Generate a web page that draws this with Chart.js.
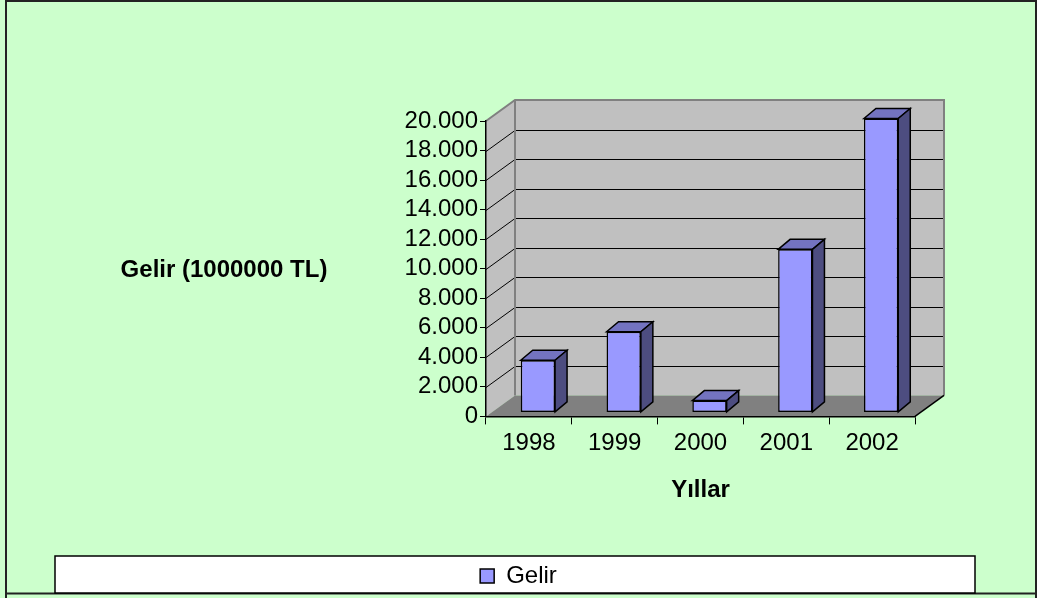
<!DOCTYPE html>
<html>
<head>
<meta charset="utf-8">
<script src="https://cdn.jsdelivr.net/npm/chart.js@4/dist/chart.umd.min.js"></script>
<style>
  html, body { margin: 0; padding: 0; background: #CCFFCC; }
  #wrap { width: 1037px; height: 598px; position: relative; }
</style>
</head>
<body>
<div id="wrap"><canvas id="chart"></canvas></div>
<script>
// ----- Data -----
const years = ["1998", "1999", "2000", "2001", "2002"];
const gelir = [3530, 5460, 800, 11040, 19900];
const yMin = 0;
const yMax = 20000;
const yStep = 2000;

// ----- 3D look -----
const WALL = { dx: 29, dy: -21 };      // depth of walls / floor
const BAR_SHIFT = { dx: 9, dy: -4 };   // bar front face sits a bit back
const BAR_DEPTH = { dx: 12, dy: -10 };
const FONT = '"Liberation Sans", Arial, sans-serif';

function fmtNum(v) {
  return String(v).replace(/\B(?=(\d{3})+(?!\d))/g, ".");
}

const cube = {
  id: "cube",
  beforeDraw(chart) {
    const { ctx, chartArea: a, scales } = chart;
    const y = scales.y;
    ctx.save();
    ctx.fillStyle = "#CCFFCC";
    ctx.fillRect(0, 0, chart.width, chart.height);

    // outer frame
    ctx.strokeStyle = "#222";
    ctx.lineWidth = 2;
    ctx.beginPath();
    ctx.moveTo(6, 598);
    ctx.lineTo(6, 1);
    ctx.lineTo(1036, 1);
    ctx.lineTo(1036, 598);
    ctx.moveTo(6, 593.5);
    ctx.lineTo(1036, 593.5);
    ctx.stroke();

    // legend box
    ctx.fillStyle = "#FFFFFF";
    ctx.fillRect(55, 556, 920, 37);
    ctx.strokeStyle = "#000";
    ctx.lineWidth = 1.5;
    ctx.strokeRect(55, 556, 920, 37);

    const L = a.left, R = a.right, T = a.top, B = a.bottom;
    // left wall + back wall
    ctx.fillStyle = "#C0C0C0";
    ctx.beginPath();
    ctx.moveTo(L, B);
    ctx.lineTo(L + WALL.dx, B + WALL.dy);
    ctx.lineTo(L + WALL.dx, T + WALL.dy);
    ctx.lineTo(L, T);
    ctx.closePath();
    ctx.fill();
    ctx.fillRect(L + WALL.dx, T + WALL.dy, R - L, B - T);

    // floor
    ctx.fillStyle = "#808080";
    ctx.beginPath();
    ctx.moveTo(L, B);
    ctx.lineTo(R, B);
    ctx.lineTo(R + WALL.dx, B + WALL.dy);
    ctx.lineTo(L + WALL.dx, B + WALL.dy);
    ctx.closePath();
    ctx.fill();

    // gridlines on left + back wall
    ctx.strokeStyle = "#000";
    ctx.lineWidth = 1;
    ctx.beginPath();
    y.ticks.forEach((t) => {
      if (t.value === yMin || t.value === yMax) return;
      const py = Math.round(y.getPixelForValue(t.value)) + 0.5;
      ctx.moveTo(L, py);
      ctx.lineTo(L + WALL.dx, py + WALL.dy);
      ctx.lineTo(R + WALL.dx, py + WALL.dy);
    });
    ctx.stroke();

    // wall edges
    ctx.strokeStyle = "#808080";
    ctx.lineWidth = 2;
    ctx.beginPath();
    ctx.moveTo(L, T);
    ctx.lineTo(L + WALL.dx, T + WALL.dy);
    ctx.lineTo(R + WALL.dx, T + WALL.dy);
    ctx.lineTo(R + WALL.dx, B + WALL.dy);
    ctx.moveTo(L + WALL.dx, T + WALL.dy);
    ctx.lineTo(L + WALL.dx, B + WALL.dy);
    ctx.stroke();

    // floor right edge
    ctx.strokeStyle = "#000";
    ctx.lineWidth = 1.5;
    ctx.beginPath();
    ctx.moveTo(R, B);
    ctx.lineTo(R + WALL.dx, B + WALL.dy);
    ctx.stroke();
    ctx.restore();
  },
  beforeDatasetsDraw(chart) {
    chart.ctx.save();
    chart.ctx.translate(BAR_SHIFT.dx, BAR_SHIFT.dy);
  },
  afterDatasetsDraw(chart) {
    const ctx = chart.ctx;
    const meta = chart.getDatasetMeta(0);
    ctx.lineWidth = 1.5;
    ctx.strokeStyle = "#000";
    ctx.lineJoin = "miter";
    meta.data.forEach((el) => {
      const p = el.getProps(["x", "y", "base", "width"], true);
      const x1 = p.x - p.width / 2;
      const x2 = p.x + p.width / 2;
      // top face
      ctx.fillStyle = "#7373C0";
      ctx.beginPath();
      ctx.moveTo(x1, p.y);
      ctx.lineTo(x1 + BAR_DEPTH.dx, p.y + BAR_DEPTH.dy);
      ctx.lineTo(x2 + BAR_DEPTH.dx, p.y + BAR_DEPTH.dy);
      ctx.lineTo(x2, p.y);
      ctx.closePath();
      ctx.fill();
      ctx.stroke();
      // side face
      ctx.fillStyle = "#4D4D80";
      ctx.beginPath();
      ctx.moveTo(x2, p.y);
      ctx.lineTo(x2 + BAR_DEPTH.dx, p.y + BAR_DEPTH.dy);
      ctx.lineTo(x2 + BAR_DEPTH.dx, p.base + BAR_DEPTH.dy);
      ctx.lineTo(x2, p.base);
      ctx.closePath();
      ctx.fill();
      ctx.stroke();
    });
    ctx.restore();
  },
  afterDraw(chart) {
    const { ctx, chartArea: a } = chart;
    ctx.save();
    ctx.fillStyle = "#000";
    ctx.font = "bold 24px " + FONT;
    ctx.textAlign = "center";
    ctx.textBaseline = "middle";
    ctx.fillText("Gelir (1000000 TL)", a.left - 262, (a.top + a.bottom) / 2 + 2);
    ctx.restore();
  },
};

new Chart(document.getElementById("chart"), {
  type: "bar",
  data: {
    labels: years,
    datasets: [
      {
        label: "Gelir",
        data: gelir,
        backgroundColor: "#9999FF",
        borderColor: "#000000",
        borderWidth: 1.5,
        borderSkipped: false,
        categoryPercentage: 1,
        barPercentage: 0.4,
        clip: false,
      },
    ],
  },
  options: {
    responsive: true,
    maintainAspectRatio: false,
    animation: false,
    layout: { padding: { left: 0, right: 0, top: 121, bottom: 0 } },
    plugins: {
      tooltip: { enabled: false },
      legend: {
        position: "bottom",
        labels: {
          color: "#000",
          font: { family: FONT, size: 24 },
          boxWidth: 14,
          boxHeight: 14,
          padding: 9,
        },
      },
    },
    scales: {
      x: {
        offset: true,
        grid: {
          offset: true,
          drawOnChartArea: false,
          drawTicks: true,
          tickLength: 8,
          color: "#000",
        },
        border: { display: true, color: "#000", width: 1.5 },
        ticks: { color: "#000", font: { family: FONT, size: 24 }, padding: 5 },
        title: {
          display: true,
          text: "Yıllar",
          color: "#000",
          font: { family: FONT, size: 24, weight: "bold" },
          padding: { top: 13, bottom: 50 },
        },
      },
      y: {
        min: yMin,
        max: yMax,
        afterFit(s) {
          s.width = 486;
        },
        grid: {
          drawOnChartArea: false,
          drawTicks: true,
          tickLength: 6,
          color: "#000",
        },
        border: { display: true, color: "#000", width: 1.5 },
        ticks: {
          stepSize: yStep,
          autoSkip: false,
          color: "#000",
          padding: 2,
          font: { family: FONT, size: 24 },
          callback: (v) => fmtNum(v),
        },
      },
      // empty spacer on the right so the plot ends where the reference does
      spacer: {
        type: "linear",
        position: "right",
        display: true,
        afterFit(s) {
          s.width = 122;
        },
        grid: { display: false },
        border: { display: false },
        ticks: { display: false },
      },
    },
  },
  plugins: [cube],
});
</script>
</body>
</html>
